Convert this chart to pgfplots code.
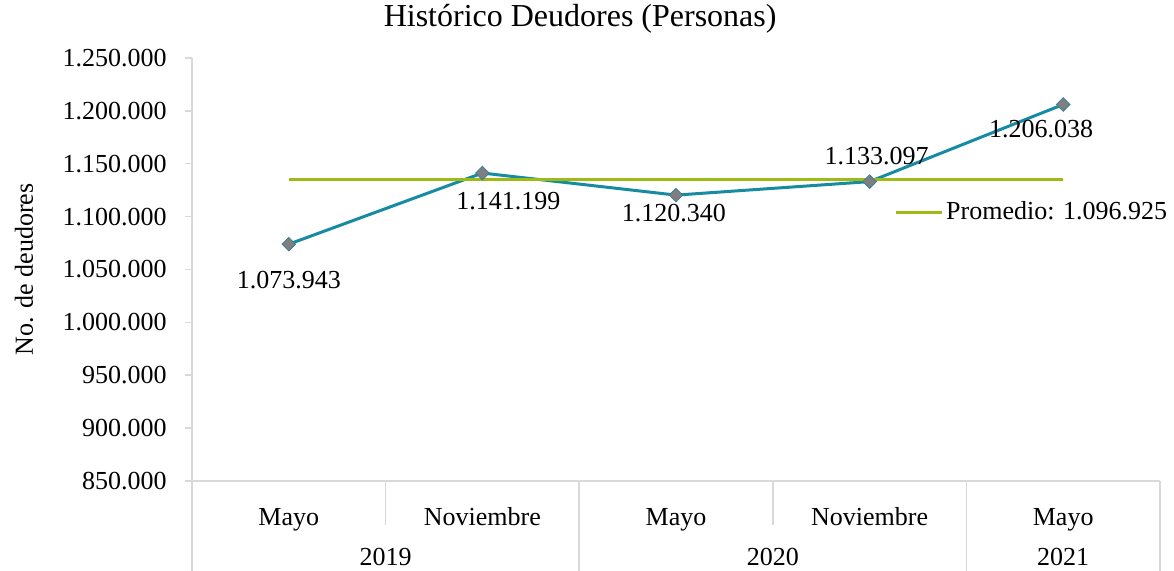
\documentclass[border=0pt]{standalone}
\usepackage{fontspec}
\setmainfont{Liberation Serif}
\usepackage{pgfplots}
\pgfplotsset{compat=1.18}
\definecolor{linea}{HTML}{178BA2}
\definecolor{prom}{HTML}{9DBB14}
\definecolor{marca}{HTML}{7F7F7F}
\definecolor{borde}{HTML}{3A7D97}
\definecolor{eje}{HTML}{D9D9D9}

\begin{document}
\fontsize{13}{15}\selectfont
\begin{tikzpicture}[font=\fontsize{13}{15}\selectfont]
\useasboundingbox (-96pt,-45pt) rectangle (491pt,240.5pt);
\begin{axis}[%
width=484pt, height=211.5pt, scale only axis,%
clip=false,%
xmin=-0.5, xmax=4.5, ymin=850000, ymax=1250000,%
ytick distance=50000,%
scaled y ticks=false,%
/pgf/number format/fixed,%
/pgf/number format/1000 sep={.},%
/pgf/number format/assume math mode=true,%
y tick label style={anchor=east, inner sep=0pt, xshift=-9pt},%
xtick={0,1,2,3,4},%
xticklabels={Mayo,Noviembre,Mayo,Noviembre,Mayo},%
x tick label style={anchor=base, yshift=-19pt, inner sep=0pt},%
xtick style={draw=none},%
axis x line*=bottom, axis y line*=left,%
axis line style={-, eje, line width=0.75pt},%
ytick style={eje, line width=0.75pt},%
tick align=outside, major tick length=3.5pt,%
legend style={draw=none, fill=none, at={(rel axis cs:0.725,0.634)}, anchor=west,%
  inner sep=0pt, nodes={inner sep=1.5pt}},%
legend image code/.code={\draw[#1] (0pt,0pt) -- (23pt,0pt);},%
]

% serie principal
\addplot [color=linea, line width=1.5pt, forget plot] coordinates {
 (0,1073943) (1,1141199) (2,1120340) (3,1133097) (4,1206038)
};

% promedio
\addplot [color=prom, line width=1.5pt] coordinates {
 (0,1134923) (4,1134923)
};
\addlegendentry{Promedio: 1.096.925}

\addplot [only marks, mark=square*, mark size=2.4pt,%
 mark options={rotate=45, fill=marca, draw=borde, line width=0.4pt}, forget plot] coordinates {
 (0,1073943) (1,1141199) (2,1120340) (3,1133097) (4,1206038)
};

% etiquetas de datos
\node[anchor=base] at (axis cs:0,1073943) [yshift=-22pt] {1.073.943};
\node[anchor=base] at (axis cs:1,1141199) [xshift=13pt, yshift=-18pt] {1.141.199};
\node[anchor=base] at (axis cs:2,1120340) [xshift=-1pt, yshift=-13pt] {1.120.340};
\node[anchor=base] at (axis cs:3,1133097) [xshift=3.5pt, yshift=8.5pt] {1.133.097};
\node[anchor=base] at (axis cs:4,1206038) [xshift=-11pt, yshift=-16.5pt] {1.206.038};

% separadores del eje de categorias
\draw[eje, line width=0.75pt] (axis cs:-0.5,850000) -- ++(0pt,-45pt);
\draw[eje, line width=0.75pt] (axis cs:0.5,850000) -- ++(0pt,-22pt);
\draw[eje, line width=0.75pt] (axis cs:1.5,850000) -- ++(0pt,-45pt);
\draw[eje, line width=0.75pt] (axis cs:2.5,850000) -- ++(0pt,-22pt);
\draw[eje, line width=0.75pt] (axis cs:3.5,850000) -- ++(0pt,-45pt);
\draw[eje, line width=0.75pt] (axis cs:4.5,850000) -- ++(0pt,-45pt);

% anios
\node[anchor=base] at (axis cs:0.5,850000) [yshift=-42.5pt] {2019};
\node[anchor=base] at (axis cs:2.5,850000) [yshift=-42.5pt] {2020};
\node[anchor=base] at (axis cs:4,850000) [yshift=-42.5pt] {2021};

% titulo y eje y
\node[anchor=base, font=\fontsize{16}{18}\selectfont] at (rel axis cs:0.401,1) [yshift=15.5pt] {Histórico Deudores (Personas)};
\node[xshift=-79.5pt, anchor=base, rotate=90] at (rel axis cs:0,0.5) {No. de deudores};
\end{axis}
\end{tikzpicture}
\end{document}
